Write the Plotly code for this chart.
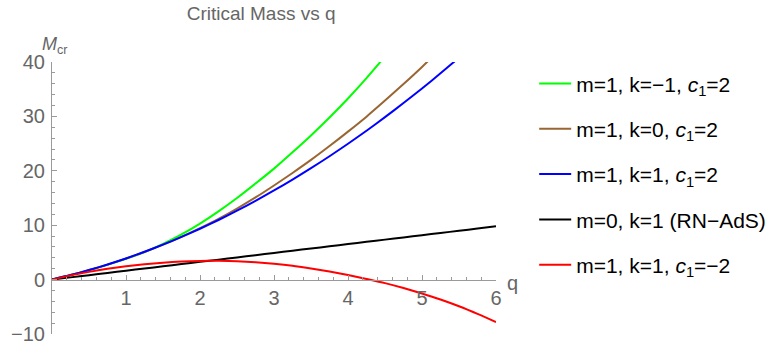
import plotly.graph_objects as go

# ---- data ----
q_grid = [0, 0.25, 0.5, 0.75, 1.0, 1.25, 1.5, 1.75, 2.0, 2.25, 2.5, 2.75, 3.0,
          3.25, 3.5, 3.75, 4.0, 4.25, 4.5, 4.75, 5.0, 5.25, 5.5, 5.75, 6.0]

m_green = [0, 0.82, 1.70, 2.70, 3.82, 5.05, 6.55, 8.30, 10.30, 12.55, 15.00, 17.65, 20.40,
           23.40, 26.50, 29.80, 33.30, 37.05, 41.00]
m_brown = [0, 0.83, 1.75, 2.76, 3.87, 5.08, 6.42, 7.87, 9.45, 11.15, 13.05, 15.10, 17.30,
           19.60, 22.00, 24.55, 27.20, 29.95, 32.90, 35.95, 39.10, 42.40]
m_blue = [0, 0.83, 1.75, 2.77, 3.89, 5.11, 6.43, 7.84, 9.35, 10.96, 12.67, 14.47, 16.38,
          18.38, 20.48, 22.68, 24.97, 27.37, 29.86, 32.45, 35.13, 37.92, 40.80]
m_black = [0, 0.41, 0.82, 1.22, 1.63, 2.04, 2.45, 2.86, 3.27, 3.67, 4.08, 4.49, 4.90,
           5.31, 5.72, 6.12, 6.53, 6.94, 7.35, 7.76, 8.17, 8.57, 8.98, 9.39, 9.80]
m_red = [0, 0.78, 1.42, 1.98, 2.45, 2.83, 3.12, 3.32, 3.43, 3.45, 3.38, 3.20, 2.92,
         2.55, 2.05, 1.50, 0.85, 0.12, -0.65, -1.55, -2.55, -3.65, -4.90, -6.30, -7.80]

series_names = ["m=1, k=\u22121, <i>c</i><sub>1</sub>=2",
                "m=1, k=0, <i>c</i><sub>1</sub>=2",
                "m=1, k=1, <i>c</i><sub>1</sub>=2",
                "m=0, k=1 (RN\u2212AdS)",
                "m=1, k=1, <i>c</i><sub>1</sub>=\u22122"]
series_vals = [m_green, m_brown, m_blue, m_black, m_red]
series_colors = ["#00ff00", "#996633", "#0000ff", "#000000", "#ff0000"]

x_ticks = [1, 2, 3, 4, 5, 6]
y_ticks = [-10, 0, 10, 20, 30, 40]

FONT = "Liberation Sans, Arial, sans-serif"
GRAY = "#666666"
AXIS = "#9a9a9a"

fig = go.Figure()
for i, (name, vals, col) in enumerate(zip(series_names, series_vals, series_colors)):
    fig.add_trace(go.Scatter(
        x=q_grid[:len(vals)], y=vals, mode="lines", name=name,
        line=dict(color=col, width=2, shape="spline", smoothing=0.6),
        legendgroup=f"g{i}",
    ))

fig.update_layout(
    width=774, height=350,
    margin=dict(l=52, r=278, t=62, b=15.5, autoexpand=False),
    paper_bgcolor="white", plot_bgcolor="white",
    font=dict(family=FONT, color=GRAY),
    title=dict(text="Critical Mass vs q", font=dict(size=19, color=GRAY, family=FONT),
               xref="paper", x=0.471, xanchor="center",
               yref="container", y=0.963, yanchor="middle"),
    showlegend=True,
    legend=dict(x=1.086, xanchor="left", y=0.995, yanchor="top",
                font=dict(size=21, color="#000000", family=FONT),
                tracegroupgap=15, bgcolor="rgba(0,0,0,0)", itemwidth=32),
    xaxis=dict(range=[0, 6], anchor="free", position=0.2, automargin=False,
               showgrid=False, zeroline=False, showline=True, linecolor=AXIS, linewidth=1,
               ticks="inside", ticklen=5, tickcolor=AXIS, tickwidth=1,
               tickvals=x_ticks, ticklabelstandoff=0,
               tickfont=dict(size=20, color=GRAY, family=FONT),
               minor=dict(ticks="inside", ticklen=3, tickcolor=AXIS, dtick=0.2, showgrid=False)),
    yaxis=dict(range=[-10, 40], automargin=False,
               showgrid=False, zeroline=False, showline=True, linecolor=AXIS, linewidth=1,
               ticks="inside", ticklen=5, tickcolor=AXIS, tickwidth=1,
               tickvals=y_ticks, ticklabelstandoff=2,
               tickfont=dict(size=20, color=GRAY, family=FONT),
               minor=dict(ticks="inside", ticklen=3, tickcolor=AXIS, dtick=2, showgrid=False)),
    annotations=[
        dict(text="<i>M</i><sub>cr</sub>", xref="paper", yref="paper",
             x=0.007, y=1.059, xanchor="center", yanchor="middle", showarrow=False,
             font=dict(size=18, color=GRAY, family=FONT)),
        dict(text="q", xref="paper", yref="paper",
             x=1.038, y=0.187, xanchor="center", yanchor="middle", showarrow=False,
             font=dict(size=20, color=GRAY, family=FONT)),
    ],
)

# remove the browser's default 8px body margin so the figure sits at the page origin
fig.write_html("out.html", config={"displayModeBar": False},
               post_script="document.body.style.margin='0';")
